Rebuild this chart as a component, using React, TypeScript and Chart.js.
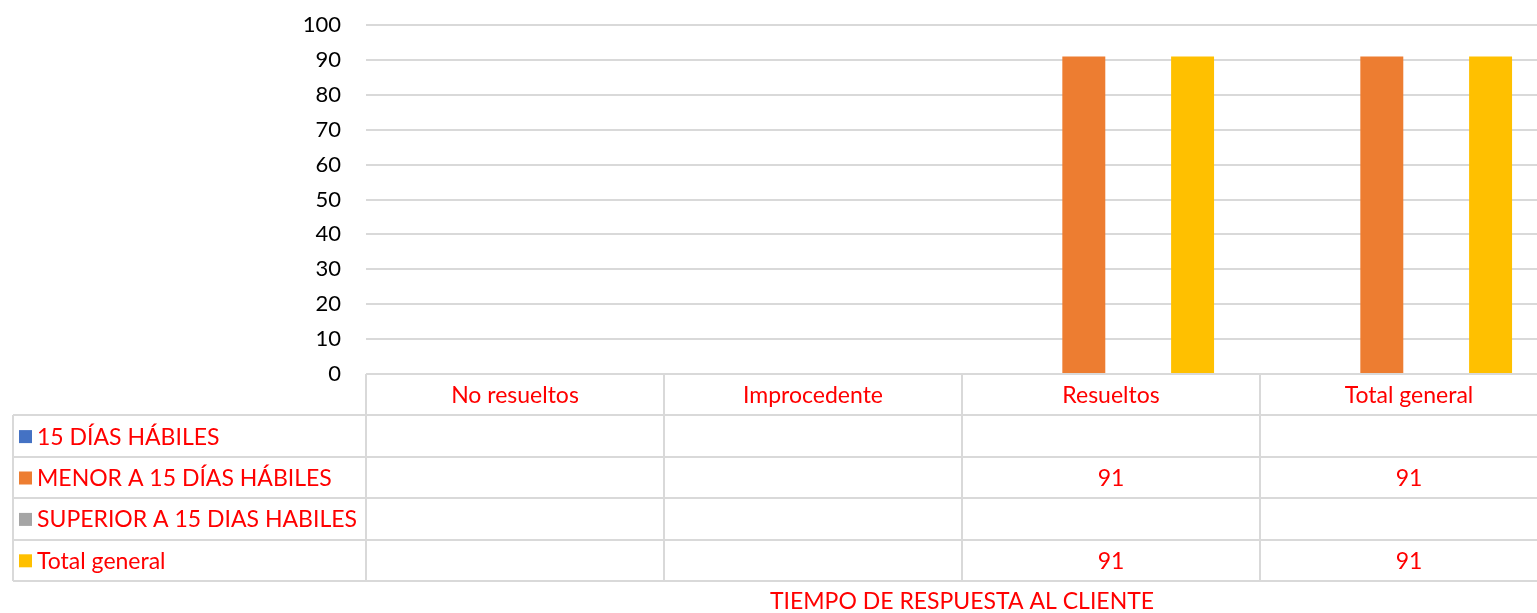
import React, { useEffect, useRef } from "react";
import { Chart, registerables } from "chart.js";

Chart.register(...registerables);

const categories = ["No resueltos", "Improcedente", "Resueltos", "Total general"];
const seriesNames = ["15 DÍAS HÁBILES", "MENOR A 15 DÍAS HÁBILES", "SUPERIOR A 15 DIAS HABILES", "Total general"];
const quinceDias: (number | null)[] = [null, null, null, null];
const menorA15: (number | null)[] = [null, null, 91, 91];
const superiorA15: (number | null)[] = [null, null, null, null];
const totalGeneral: (number | null)[] = [null, null, 91, 91];
const seriesColors = ["#4472C4", "#ED7D31", "#A5A5A5", "#FFC000"];
const axisTitle = "TIEMPO DE RESPUESTA AL CLIENTE";

const FONT = "Lato, 'Open Sans', sans-serif";
const RED = "#FF0000";
const LINE = "#D9D9D9";

const CANVAS_W = 1600;
const CANVAS_H = 613;
const PLOT_RIGHT = 1558;
const PLOT_LEFT = 366;
const PLOT_TOP = 25;
const PLOT_BOTTOM = 374;
const ROW_H = 41.4;
const TABLE_LEFT = 13;

const tablePlugin = {
  id: "dataTable",
  afterDraw(chart: any) {
    const ctx = chart.ctx as CanvasRenderingContext2D;
    const xs = chart.scales.x;
    const area = chart.chartArea;
    const n = categories.length;
    const colW = (area.right - area.left) / n;
    const top = area.bottom;
    const rows = seriesNames.length;
    const rowY = (r: number) => top + ROW_H * r;
    const bottom = rowY(rows + 1);
    ctx.save();
    ctx.strokeStyle = LINE;
    ctx.lineWidth = 2;
    ctx.beginPath();
    ctx.moveTo(area.left, top);
    ctx.lineTo(area.right, top);
    for (let r = 1; r <= rows + 1; r++) {
      const y = Math.round(rowY(r));
      ctx.moveTo(TABLE_LEFT, y);
      ctx.lineTo(area.right, y);
    }
    ctx.moveTo(TABLE_LEFT, Math.round(rowY(1)));
    ctx.lineTo(TABLE_LEFT, bottom);
    for (let c = 0; c <= n; c++) {
      const x = Math.round(area.left + colW * c);
      ctx.moveTo(x, top);
      ctx.lineTo(x, bottom);
    }
    ctx.stroke();

    ctx.font = `23px ${FONT}`;
    ctx.fillStyle = RED;
    ctx.textBaseline = "middle";
    ctx.textAlign = "center";
    categories.forEach((c, i) => {
      ctx.fillText(c, xs.getPixelForValue(i), rowY(0) + ROW_H / 2 + 1);
    });
    chart.data.datasets.forEach((ds: any, r: number) => {
      const cy = rowY(r + 1) + ROW_H / 2 + 1;
      ctx.fillStyle = ds.backgroundColor;
      ctx.fillRect(19, cy - 7, 13, 13);
      ctx.fillStyle = RED;
      ctx.textAlign = "left";
      ctx.fillText(ds.label, 37, cy);
      ctx.textAlign = "center";
      ds.data.forEach((v: number | null, i: number) => {
        if (v !== null && v !== undefined) {
          ctx.fillText(String(v), xs.getPixelForValue(i), cy);
        }
      });
    });
    ctx.fillText(axisTitle, (area.left + area.right) / 2, 602);
    ctx.restore();
  },
};

export default function App() {
  const ref = useRef<HTMLCanvasElement>(null);
  useEffect(() => {
    if (!ref.current) return;
    const dataArrays = [quinceDias, menorA15, superiorA15, totalGeneral];
    const chart = new Chart(ref.current, {
      type: "bar",
      data: {
        labels: categories,
        datasets: seriesNames.map((name, i) => ({
          label: name,
          data: dataArrays[i],
          backgroundColor: seriesColors[i],
          categoryPercentage: 0.73,
          barPercentage: 0.79,
        })),
      },
      options: {
        animation: false,
        responsive: false,
        maintainAspectRatio: false,
        layout: {
          padding: {
            top: PLOT_TOP,
            bottom: CANVAS_H - PLOT_BOTTOM,
            left: 0,
            right: CANVAS_W - PLOT_RIGHT,
          },
        },
        plugins: {
          legend: { display: false },
          tooltip: { enabled: false },
        },
        scales: {
          x: { display: false },
          y: {
            min: 0,
            max: 100,
            ticks: {
              stepSize: 10,
              color: "#000000",
              font: { family: FONT, size: 22 },
              padding: 25,
            },
            grid: { color: LINE, lineWidth: 2, drawTicks: false },
            border: { display: false },
            afterFit(scale: any) {
              scale.width = PLOT_LEFT;
              scale.paddingTop = 0;
              scale.paddingBottom = 0;
            },
          },
        },
      },
      plugins: [tablePlugin],
    });
    return () => chart.destroy();
  }, []);
  return (
    <div style={{ position: "fixed", left: 0, top: 0, width: 1537, height: 613, overflow: "hidden", background: "#fff" }}>
      <canvas ref={ref} width={CANVAS_W} height={CANVAS_H} style={{ display: "block" }} />
    </div>
  );
}
